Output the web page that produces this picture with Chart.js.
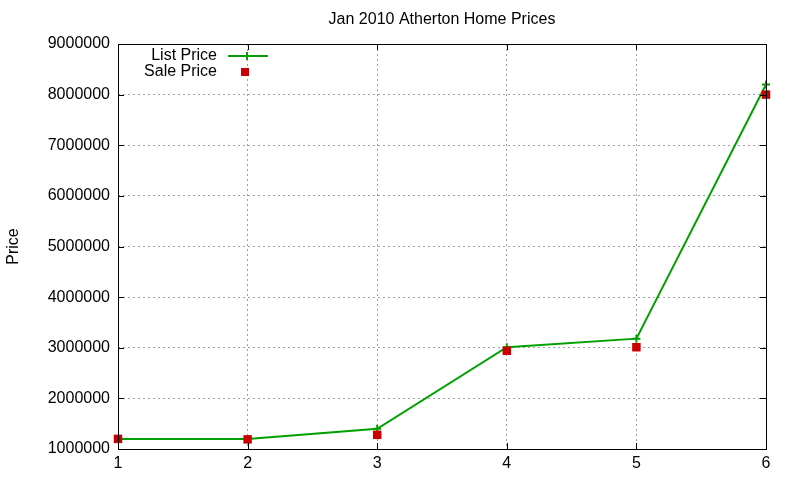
<!DOCTYPE html>
<html>
<head>
<meta charset="utf-8">
<script src="https://cdn.jsdelivr.net/npm/chart.js@4/dist/chart.umd.min.js"></script>
<style>
  html, body { margin: 0; padding: 0; background: #fff; }
  #wrap { width: 800px; height: 480px; }
</style>
</head>
<body>
<div id="wrap"><canvas id="myChart" width="800" height="480"></canvas></div>
<script>
const homes = [1, 2, 3, 4, 5, 6];
const listPrice = [1200000, 1200000, 1400000, 3010000, 3180000, 8200000];
const salePrice = [1200000, 1190000, 1280000, 2940000, 3010000, 8000000];
const yTicks = [1000000, 2000000, 3000000, 4000000, 5000000, 6000000, 7000000, 8000000, 9000000];
const chartTitle = 'Jan 2010 Atherton Home Prices';

const FONT = "'Liberation Sans', Arial, sans-serif";

// gnuplot style frame, inward tick marks, title over the plot and key
const framePlugin = {
  id: 'frame',
  afterDatasetsDraw(chart) {
    const ctx = chart.ctx;
    const a = chart.chartArea;
    const xs = chart.scales.x, ys = chart.scales.y;
    ctx.save();
    ctx.strokeStyle = '#000';
    ctx.lineWidth = 1;
    ctx.beginPath();
    homes.forEach(function (v) {
      const px = Math.round(xs.getPixelForValue(v)) + 0.5;
      ctx.moveTo(px, a.bottom); ctx.lineTo(px, a.bottom - 6);
      ctx.moveTo(px, a.top); ctx.lineTo(px, a.top + 6);
    });
    yTicks.forEach(function (v) {
      const py = Math.round(ys.getPixelForValue(v)) + 0.5;
      ctx.moveTo(a.left, py); ctx.lineTo(a.left + 6, py);
      ctx.moveTo(a.right, py); ctx.lineTo(a.right - 6, py);
    });
    ctx.stroke();
    ctx.strokeRect(Math.round(a.left) + 0.5, Math.round(a.top) + 0.5,
                   Math.round(a.right - a.left), Math.round(a.bottom - a.top));

    // title, centred over the plot area like gnuplot does
    ctx.font = '16px ' + FONT;
    ctx.fillStyle = '#000';
    ctx.textAlign = 'center';
    ctx.textBaseline = 'middle';
    ctx.fillText(chartTitle, (a.left + a.right) / 2, 20);

    // key
    ctx.textAlign = 'right';
    ctx.fillText(chart.data.datasets[0].label, 217, 56);
    ctx.fillText(chart.data.datasets[1].label, 217, 72);
    ctx.strokeStyle = '#00a000';
    ctx.lineWidth = 2;
    ctx.beginPath();
    ctx.moveTo(228, 56); ctx.lineTo(268, 56);
    ctx.moveTo(247, 52); ctx.lineTo(247, 60);
    ctx.stroke();
    ctx.fillStyle = '#cc0000';
    ctx.fillRect(241, 68, 8, 8);
    ctx.restore();
  }
};

new Chart("myChart", {
  type: "line",
  data: {
    datasets: [{
      label: "List Price",
      data: homes.map(function (h, i) { return { x: h, y: listPrice[i] }; }),
      borderColor: "#00a000",
      backgroundColor: "#00a000",
      borderWidth: 2,
      lineTension: 0,
      fill: false,
      pointStyle: 'cross',
      pointRadius: 4,
      pointBorderWidth: 2,
      clip: false,
      order: 2
    }, {
      label: "Sale Price",
      data: homes.map(function (h, i) { return { x: h, y: salePrice[i] }; }),
      showLine: false,
      borderColor: "#cc0000",
      backgroundColor: "#cc0000",
      pointStyle: 'rect',
      pointRadius: 6,
      pointBorderWidth: 0,
      clip: false,
      order: 1
    }]
  },
  plugins: [framePlugin],
  options: {
    responsive: false,
    animation: false,
    devicePixelRatio: 1,
    layout: { padding: { left: 0, right: 34, top: 44, bottom: 0 } },
    plugins: {
      legend: { display: false },
      tooltip: { enabled: false },
      title: { display: false }
    },
    scales: {
      x: {
        type: 'linear',
        min: 1,
        max: 6,
        afterFit: function (scale) { scale.height = 31; },
        grid: { color: '#a0a0a0', drawTicks: false },
        border: { display: false, dash: [2, 3] },
        ticks: {
          stepSize: 1,
          color: '#000',
          padding: 5,
          font: { family: FONT, size: 16 }
        }
      },
      y: {
        min: 1000000,
        max: 9000000,
        afterFit: function (scale) { scale.width = 118; },
        grid: { color: '#a0a0a0', drawTicks: false },
        border: { display: false, dash: [2, 3] },
        ticks: {
          stepSize: 1000000,
          color: '#000',
          padding: 8,
          font: { family: FONT, size: 16 },
          callback: function (value) { return String(value); }
        },
        title: {
          display: true,
          text: 'Price',
          color: '#000',
          font: { family: FONT, size: 16 },
          padding: { top: 4, bottom: 0 }
        }
      }
    }
  }
});
</script>
</body>
</html>
